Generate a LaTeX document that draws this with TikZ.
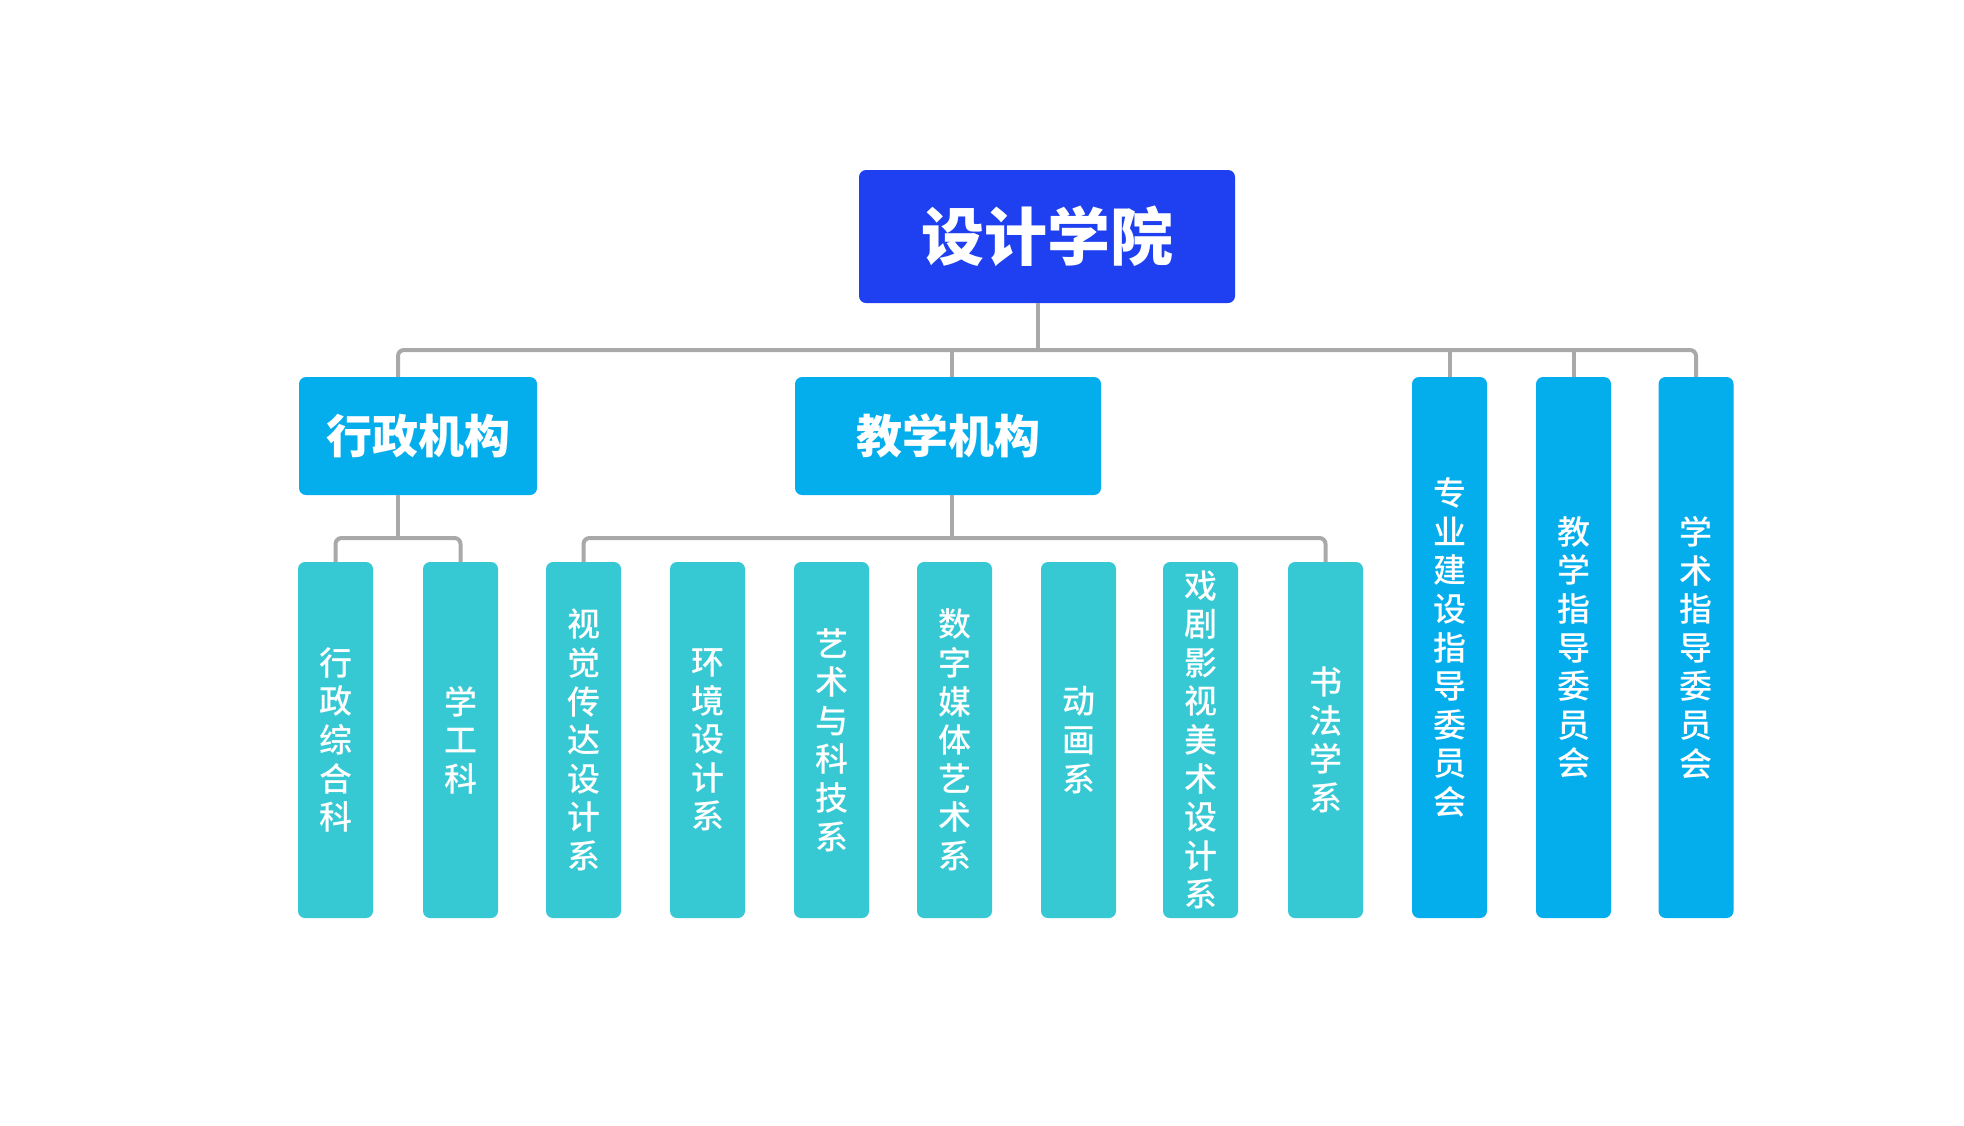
\documentclass[tikz,border=0pt]{standalone}
\usepackage{fontspec}
\newfontfamily\cjk{Noto Sans CJK SC}
\newfontfamily\cjkm{Noto Sans CJK SC Medium}
\definecolor{topblue}{HTML}{1F40F0}
\definecolor{midblue}{HTML}{04AEEC}
\definecolor{teal}{HTML}{36C9D3}
\definecolor{linegray}{HTML}{A9A9A9}
\tikzset{
  box/.style={rounded corners=7pt, inner sep=0pt, text=white, align=center},
  topbox/.style={box, fill=topblue, minimum width=376pt, minimum height=133pt, font=\cjk\bfseries\fontsize{63}{63}\selectfont},
  midbox/.style={box, fill=midblue, minimum width=238pt, minimum height=118pt, font=\cjk\bfseries\fontsize{46}{46}\selectfont},
  subbox/.style={box, fill=teal, minimum width=75pt, minimum height=356pt, font=\cjkm\fontsize{33}{38.6}\selectfont},
  combox/.style={box, fill=midblue, minimum width=75pt, minimum height=541pt, font=\cjkm\fontsize{33}{38.6}\selectfont},
  conn/.style={draw=linegray, line width=4pt, rounded corners=6pt}
}
\begin{document}
\begin{tikzpicture}[x=1pt,y=-1pt]
\useasboundingbox[fill=white] (0,0) rectangle (1964,1125);
% nodes
\node[topbox] (top) at (1047,236.5) {设计学院};
\node[midbox] (xz) at (418,436) {行政机构};
\node[midbox, minimum width=306pt] (jx) at (948,436) {教学机构};
\node[combox] (c1) at (1449.5,647.5) {专\\业\\建\\设\\指\\导\\委\\员\\会};
\node[combox] (c2) at (1573.5,647.5) {教\\学\\指\\导\\委\\员\\会};
\node[combox] (c3) at (1696,647.5) {学\\术\\指\\导\\委\\员\\会};
\node[subbox] (s1) at (335.5,740) {行\\政\\综\\合\\科};
\node[subbox] (s2) at (460.5,740) {学\\工\\科};
\node[subbox] (s3) at (583.5,740) {视\\觉\\传\\达\\设\\计\\系};
\node[subbox] (s4) at (707.5,740) {环\\境\\设\\计\\系};
\node[subbox] (s5) at (831.5,740) {艺\\术\\与\\科\\技\\系};
\node[subbox] (s6) at (954.5,740) {数\\字\\媒\\体\\艺\\术\\系};
\node[subbox] (s7) at (1078.5,740) {动\\画\\系};
\node[subbox] (s8) at (1200.5,740) {戏\\剧\\影\\视\\美\\术\\设\\计\\系};
\node[subbox] (s9) at (1325.5,740) {书\\法\\学\\系};
% bus coordinates
\coordinate (b1) at (1038,350);
\coordinate (bx) at (398,350);
\coordinate (bj) at (952,350);
\coordinate (b2) at (398,538);
\coordinate (b3) at (952,538);
% top-level bus
\draw[conn] (xz.north -| bx) -- (bx) -- (b1 -| c3) -- (c3.north);
\draw[conn] (top.south -| b1) -- (b1);
\draw[conn] (bj) -- (jx.north -| bj);
\draw[conn] (b1 -| c1) -- (c1.north);
\draw[conn] (b1 -| c2) -- (c2.north);
% administrative bus
\draw[conn] (xz.south -| b2) -- (b2);
\draw[conn] (s1.north) -- (b2 -| s1) -- (b2 -| s2) -- (s2.north);
% teaching bus
\draw[conn] (jx.south -| b3) -- (b3);
\draw[conn] (s3.north) -- (b3 -| s3) -- (b3 -| s9) -- (s9.north);
\end{tikzpicture}
\end{document}
